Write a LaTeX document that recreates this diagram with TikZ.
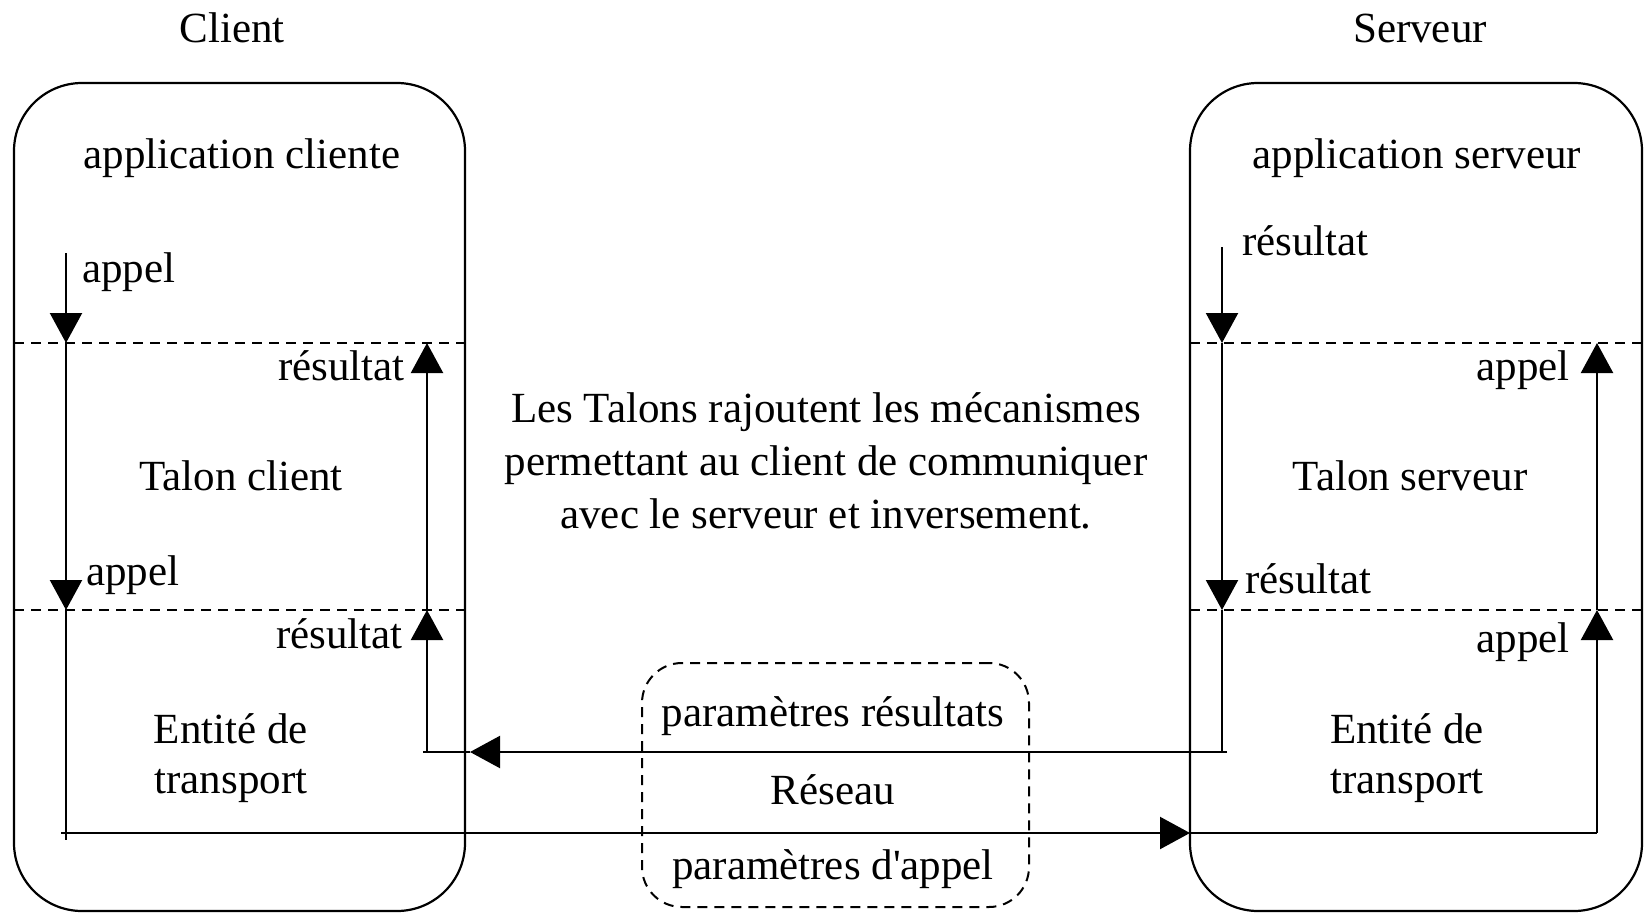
\documentclass[tikz,border=0pt]{standalone}
\usepackage{fontspec}
\setmainfont{Liberation Serif}
\usetikzlibrary{arrows.meta}
\begin{document}
\begin{tikzpicture}[x=1pt,y=-1pt,
  lbl/.style={inner sep=0pt, font=\fontsize{43}{48}\selectfont},
  frame/.style={draw, line width=2.2pt, rounded corners=68pt, rectangle, inner sep=0pt},
  netframe/.style={draw, line width=2pt, dash pattern=on 10pt off 7pt, rounded corners=40pt, rectangle, inner sep=0pt},
  sep/.style={draw, line width=2pt, dash pattern=on 10pt off 7pt},
  flow/.style={line width=2.2pt},
  tip/.style={flow, -{Triangle[length=30pt,width=32pt]}},
]
\useasboundingbox (0,0) rectangle (1649,913);

% frames
\node[frame, minimum width=451pt, minimum height=828pt] (cbox) at (239.5,497) {};
\node[frame, minimum width=452pt, minimum height=828pt] (sbox) at (1416,497) {};
\node[netframe, minimum width=387pt, minimum height=244pt] (net) at (835.5,785) {};

% layer separators
\coordinate (cl1) at (14,343);  \coordinate (cr1) at (465,343);
\coordinate (cl2) at (14,610);  \coordinate (cr2) at (465,610);
\coordinate (sl1) at (1190,343); \coordinate (sr1) at (1647,343);
\coordinate (sl2) at (1190,610); \coordinate (sr2) at (1647,610);
\draw[sep] (cl1) -- (cr1);
\draw[sep] (cl2) -- (cr2);
\draw[sep] (sl1) -- (sr1);
\draw[sep] (sl2) -- (sr2);

% call path (client -> server)
\coordinate (a0) at (66,253);
\coordinate (a1) at (66,343);
\coordinate (a2) at (66,610);
\coordinate (a3) at (66,840);
\coordinate (b0) at (61,833);
\coordinate (b1) at (1190,833);
\coordinate (b2) at (1597,833);
\coordinate (b3) at (1597,610);
\coordinate (b4) at (1597,343);
\draw[tip] (a0) -- (a1);
\draw[tip] (a1) -- (a2);
\draw[flow] (a2) -- (a3);
\draw[tip] (b0) -- (b1);
\draw[flow] (b1) -- (b2);
\draw[tip] (b2) -- (b3);
\draw[tip] (b3) -- (b4);

% result path (server -> client)
\coordinate (s0) at (1222,247);
\coordinate (s1) at (1222,343);
\coordinate (s2) at (1222,610);
\coordinate (s3) at (1222,752);
\coordinate (s4) at (1227,752);
\coordinate (r0) at (470,752);
\coordinate (r1) at (423,752);
\coordinate (c0) at (427,752);
\coordinate (c1) at (427,610);
\coordinate (c2) at (427,343);
\draw[tip] (s0) -- (s1);
\draw[tip] (s1) -- (s2);
\draw[flow] (s2) -- (s3);
\draw[tip] (s4) -- (r0);
\draw[flow] (r0) -- (r1);
\draw[tip] (c0) -- (c1);
\draw[tip] (c1) -- (c2);

% titles
\node[lbl, anchor=base] (tclient) at (232,42) {Client};
\node[lbl, anchor=base] (tserveur) at (1420,42) {Serveur};

% client side
\node[lbl, anchor=base] (appcl) at (242,168) {application cliente};
\node[lbl, anchor=base west] (cap1) at (82,282) {appel};
\node[lbl, anchor=base east] (cres1) at (405,380) {résultat};
\node[lbl, anchor=base] (talc) at (241,490) {Talon client};
\node[lbl, anchor=base west] (cap2) at (86,585) {appel};
\node[lbl, anchor=base east] (cres2) at (403,648) {résultat};
\node[lbl, anchor=base] (entc1) at (231,743) {Entité de};
\node[lbl, anchor=base] (entc2) at (231,793) {transport};

% server side
\node[lbl, anchor=base] (appsv) at (1417,168) {application serveur};
\node[lbl, anchor=base west] (sres1) at (1242,255) {résultat};
\node[lbl, anchor=base east] (sap1) at (1570,380) {appel};
\node[lbl, anchor=base] (tals) at (1410,490) {Talon serveur};
\node[lbl, anchor=base west] (sres2) at (1245,593) {résultat};
\node[lbl, anchor=base east] (sap2) at (1570,652) {appel};
\node[lbl, anchor=base] (ents1) at (1407,743) {Entité de};
\node[lbl, anchor=base] (ents2) at (1407,793) {transport};

% middle text
\node[lbl, anchor=base] (m1) at (826,422) {Les Talons rajoutent les mécanismes};
\node[lbl, anchor=base] (m2) at (826,475) {permettant au client de communiquer};
\node[lbl, anchor=base] (m3) at (826,528) {avec le serveur et inversement.};

% network
\node[lbl, anchor=base] (pres) at (833,726) {paramètres résultats};
\node[lbl, anchor=base] (reseau) at (833,804) {Réseau};
\node[lbl, anchor=base] (papp) at (833,879) {paramètres d\textquotesingle appel};
\end{tikzpicture}
\end{document}
